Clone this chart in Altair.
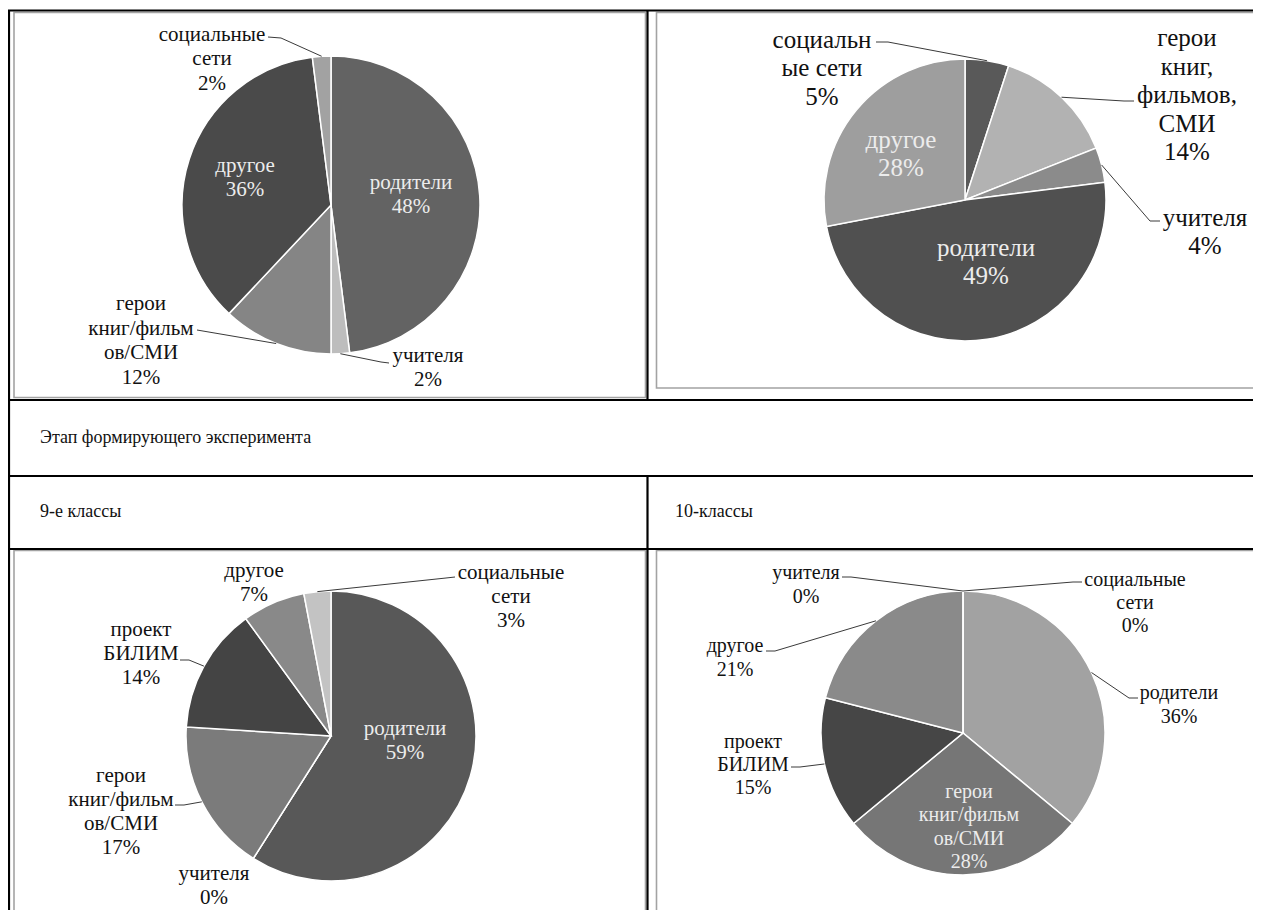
import math
import altair as alt
import pandas as pd

OFF = 8            # page margin
W, H = 1245, 902   # drawing canvas
FONT = "Liberation Serif"

# ---------------- data ----------------
TL_CATS = ["родители", "учителя", "герои\nкниг/фильм\nов/СМИ", "другое", "социальные\nсети"]
TL_VALS = [48, 2, 12, 36, 2]

TR_CATS = ["социальн\nые сети", "герои\nкниг,\nфильмов,\nСМИ", "учителя", "родители", "другое"]
TR_VALS = [5, 14, 4, 49, 28]

BL_CATS = ["родители", "учителя", "герои\nкниг/фильм\nов/СМИ", "проект\nБИЛИМ", "другое", "социальные\nсети"]
BL_VALS = [59, 0, 17, 14, 7, 3]

BR_CATS = ["социальные\nсети", "родители", "герои\nкниг/фильм\nов/СМИ", "проект\nБИЛИМ", "другое", "учителя"]
BR_VALS = [0, 36, 28, 15, 21, 0]

ROW_TITLE = "Этап формирующего эксперимента"
COL_TITLES = ["9-е классы", "10-классы"]

# ---------------- styles / layout ----------------
LIGHT = "#ececec"
DARK = "#111111"
PIES = [
    dict(cats=TL_CATS, vals=TL_VALS, c=(331, 205), r=149, fs=21, lh=24.5,
         colors=["#636363", "#bdbdbd", "#858585", "#4a4a4a", "#a2a2a2"],
         lab=[(411, 195), (428, 368), (141, 341), (245, 178), (212, 59)],
         inside=[True, False, False, True, False],
         lead=[None, [(389, 363), (381, 362)], [(197, 330)], None, [(268, 37), (281, 38)]]),
    dict(cats=TR_CATS, vals=TR_VALS, c=(965, 200), r=141, fs=25, lh=28.5,
         colors=["#595959", "#b2b2b2", "#8b8b8b", "#505050", "#9e9e9e"],
         lab=[(822, 68), (1187, 95), (1205, 232), (986, 262), (901, 154)],
         inside=[False, False, False, True, True],
         lead=[[(876, 42), (888, 42)], [(1134, 101), (1124, 101)], [(1160, 221), (1150, 221)], None, None]),
    dict(cats=BL_CATS, vals=BL_VALS, c=(331, 736), r=145, fs=21, lh=24,
         colors=["#585858", "#bbbbbb", "#7b7b7b", "#444444", "#898989", "#c3c3c3"],
         lab=[(405, 741), (214, 886), (121, 812), (141, 654), (254, 583), (511, 597)],
         inside=[True, False, False, False, False, False],
         lead=[None, None, [(175, 805), (184, 805)], [(180, 660), (189, 660)], None, [(455, 577), (446, 578)]]),
    dict(cats=BR_CATS, vals=BR_VALS, c=(963, 733), r=142, fs=20, lh=23.3,
         colors=["#c3c3c3", "#a2a2a2", "#767676", "#464646", "#8a8a8a", "#bbbbbb"],
         lab=[(1135, 603), (1179, 705), (969, 827), (753, 765), (735, 658), (806, 585)],
         inside=[False, False, True, False, False, False],
         lead=[[(1082, 582), (1073, 582)], [(1138, 698), (1129, 698)], None, [(791, 767), (800, 767)],
               [(766, 651), (775, 651)], [(842, 577), (851, 577)]]),
]

layers = []

# table borders (layout)
black = pd.DataFrame([
    (8, 10.5, 1261, 10.5), (9, 10, 9, 919), (647.5, 10, 647.5, 400), (647.5, 476, 647.5, 919),
    (8, 400, 1261, 400), (8, 476, 1261, 476), (8, 549, 1261, 549)],
    columns=["x", "y", "x2", "y2"]) - OFF
frames = pd.DataFrame([
    (14, 12.5, 645.5, 397.5), (656.5, 12.5, 1275, 388), (14, 550.5, 645.5, 935), (656.5, 550.5, 1275, 917.5)],
    columns=["x", "y", "x2", "y2"]) - OFF

layers.append(alt.Chart(frames).mark_rect(fill=None, stroke="#a3a3a3", strokeWidth=1.6).encode(
    x=alt.X("x:Q", scale=None), x2="x2:Q", y=alt.Y("y:Q", scale=None), y2="y2:Q"))
layers.append(alt.Chart(black).mark_rule(color="#000000", strokeWidth=2.2).encode(
    x=alt.X("x:Q", scale=None), x2="x2:Q", y=alt.Y("y:Q", scale=None), y2="y2:Q"))

# row texts
rows = pd.DataFrame({"t": [ROW_TITLE] + COL_TITLES,
                     "x": [40 - OFF, 40 - OFF, 675 - OFF],
                     "y": [438 - OFF, 512 - OFF, 512 - OFF]})
layers.append(alt.Chart(rows).mark_text(font=FONT, fontSize=18, align="left", baseline="middle",
                                        color="#111111").encode(
    x=alt.X("x:Q", scale=None), y=alt.Y("y:Q", scale=None), text="t:N"))

lead_rows = []
lid = 0
for p in PIES:
    cx, cy = p["c"]
    df = pd.DataFrame({"cat": p["cats"], "v": p["vals"], "idx": list(range(len(p["vals"]))),
                       "col": p["colors"]})
    layers.append(alt.Chart(df).mark_arc(outerRadius=p["r"], stroke="white", strokeWidth=1.5).encode(
        theta=alt.Theta("v:Q", stack=True),
        order=alt.Order("idx:Q"),
        color=alt.Color("col:N", scale=None),
        x=alt.value(cx - OFF), y=alt.value(cy - OFF)))
    # labels
    texts, xs, ys, cols = [], [], [], []
    total = sum(p["vals"])
    cum = 0
    for i, (cat, v) in enumerate(zip(p["cats"], p["vals"])):
        mid = (cum + v / 2) / total * 2 * math.pi
        cum += v
        t = cat + "\n" + f"{v}%"
        n = t.count("\n") + 1
        texts.append(t)
        xs.append(p["lab"][i][0] - OFF)
        ys.append(p["lab"][i][1] - OFF - (n - 1) * p["lh"] / 2)
        cols.append(LIGHT if p["inside"][i] else DARK)
        if p["lead"][i]:
            pts = list(p["lead"][i]) + [(cx + p["r"] * math.sin(mid), cy - p["r"] * math.cos(mid))]
            for k, (px, py) in enumerate(pts):
                lead_rows.append(dict(id=lid, o=k, x=px - OFF, y=py - OFF))
            lid += 1
    tdf = pd.DataFrame({"t": texts, "x": xs, "y": ys, "c": cols})
    layers.append(alt.Chart(tdf).mark_text(font=FONT, fontSize=p["fs"], lineHeight=p["lh"],
                                           lineBreak="\n", align="center", baseline="middle").encode(
        x=alt.X("x:Q", scale=None), y=alt.Y("y:Q", scale=None), text="t:N",
        color=alt.Color("c:N", scale=None)))

ldf = pd.DataFrame(lead_rows)
layers.append(alt.Chart(ldf).mark_line(color="#3a3a3a", strokeWidth=1).encode(
    x=alt.X("x:Q", scale=None), y=alt.Y("y:Q", scale=None), detail="id:N", order="o:Q"))

chart = alt.layer(*layers).resolve_scale(theta="independent").properties(
    width=W, height=H, autosize=alt.AutoSizeParams(type="none"), padding=0, background="white"
).configure_view(stroke=None)

chart.save("out.html", embed_options={"renderer": "svg", "actions": False})
